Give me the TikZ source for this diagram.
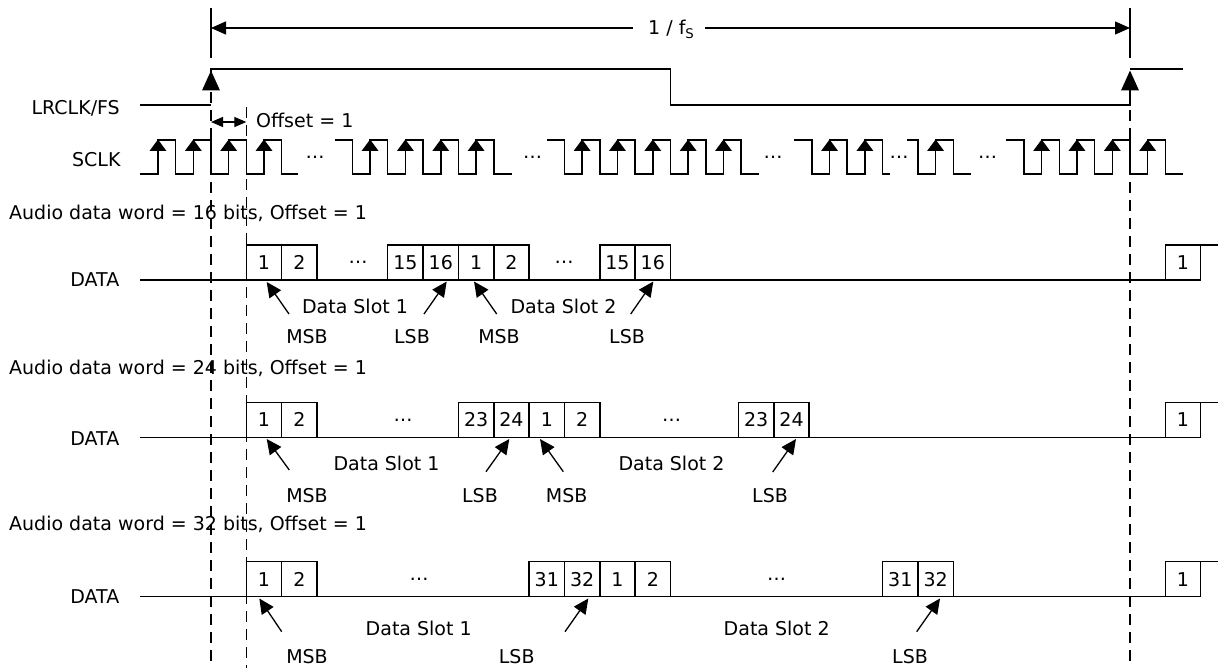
\documentclass[tikz,border=0pt]{standalone}
\usepackage{fontspec}
\setmainfont{DejaVu Sans}
\usetikzlibrary{arrows.meta}
\begin{document}
\begin{tikzpicture}[x=1pt,y=-1pt,
  sig/.style={line width=1.5pt, line join=miter},
  guide/.style={line width=1.3pt, dash pattern=on 11pt off 7pt},
  txt/.style={inner sep=0pt, font=\fontsize{19}{23}\selectfont},
  lbl/.style={txt, anchor=base},
  bitbox/.style={txt, draw, line width=1.5pt, minimum width=35.346pt, minimum height=35pt, outer sep=0pt, anchor=south west},
  ptr/.style={line width=1.3pt, -{Triangle[length=15pt,width=14pt]}},
  dimarr/.style={line width=1.3pt, -{Triangle[length=15pt,width=13pt]}},
  offarr/.style={line width=1.3pt, {Triangle[length=12pt,width=10pt]}-{Triangle[length=12pt,width=10pt]}},
]
\useasboundingbox (0,0) rectangle (1220,668);
\pgfmathsetmacro{\P}{35.346}

% ---------- period dimension ----------
\draw[sig] (211,8) -- (211,58);
\draw[sig] (1130,8) -- (1130,58);
\coordinate (dimL) at (211,28);
\coordinate (dimR) at (1130,28);
\coordinate (gapL) at (633,28);
\coordinate (gapR) at (705,28);
\node[lbl, anchor=base west] (fs) at (648,35) {1 / f\textsubscript{S}};
\draw[dimarr] (gapL) -- (dimL);
\draw[dimarr] (gapR) -- (dimR);

% ---------- LRCLK/FS ----------
\node[lbl, anchor=base east] (lrclk) at (120,115) {LRCLK/FS};
\draw[sig] (140,105) -- (211,105);
\draw[sig] (211,90) -- (211,69) -- (670.5,69) -- (670.5,105) -- (1130,105) -- (1130,90);
\draw[sig] (1130,69) -- (1183,69);
\fill (202,90.5) -- (211,70.5) -- (220,90.5) -- cycle;
\fill (1121,90.5) -- (1130,70.5) -- (1139,90.5) -- cycle;

% ---------- guides ----------
\draw[guide] (211,92) -- (211,668);
\draw[guide] ({211+\P},107) -- ({211+\P},668);
\draw[guide] (1130,92) -- (1130,668);

% ---------- offset ----------
\coordinate (offA) at (211,122);
\coordinate (offB) at ({211+\P},122);
\draw[offarr] (offA) -- (offB);
\node[lbl, anchor=base west] (offset) at (256,128) {Offset = 1};

% ---------- SCLK ----------
\node[lbl, anchor=base east] (sclk) at (120.7,166.7) {SCLK};
\draw[sig] (140,174)
  foreach \k in {-1,0,1,2}{ -- ({211+(\k-0.5)*\P},174) -- ({211+(\k-0.5)*\P},140) -- ({211+\k*\P},140) -- ({211+\k*\P},174) }
  -- (298,174);
\draw[sig] ({211+3.5*\P},140) -- ({211+4*\P},140) -- ({211+4*\P},174)
  foreach \k in {5,6,7,8}{ -- ({211+(\k-0.5)*\P},174) -- ({211+(\k-0.5)*\P},140) -- ({211+\k*\P},140) -- ({211+\k*\P},174) }
  -- (512,174);
\draw[sig] ({211+9.5*\P},140) -- ({211+10*\P},140) -- ({211+10*\P},174)
  foreach \k in {11,12,13,14,15}{ -- ({211+(\k-0.5)*\P},174) -- ({211+(\k-0.5)*\P},140) -- ({211+\k*\P},140) -- ({211+\k*\P},174) }
  -- (758.5,174);
\draw[sig] ({211+16.5*\P},140) -- ({211+17*\P},140) -- ({211+17*\P},174)
  foreach \k in {18,19}{ -- ({211+(\k-0.5)*\P},174) -- ({211+(\k-0.5)*\P},140) -- ({211+\k*\P},140) -- ({211+\k*\P},174) }
  -- (890,174);
\draw[sig] (907,140) -- ({211+20*\P},140) -- ({211+20*\P},174)
  foreach \k in {21}{ -- ({211+(\k-0.5)*\P},174) -- ({211+(\k-0.5)*\P},140) -- ({211+\k*\P},140) -- ({211+\k*\P},174) }
  -- (971,174);
\draw[sig] ({211+22.5*\P},140) -- ({211+23*\P},140) -- ({211+23*\P},174)
  foreach \k in {24,25,26,27}{ -- ({211+(\k-0.5)*\P},174) -- ({211+(\k-0.5)*\P},140) -- ({211+\k*\P},140) -- ({211+\k*\P},174) }
  -- (1183,174);
\foreach \k in {-1,0,1,2,5,6,7,8,11,12,13,14,15,18,19,21,24,25,26,27}
  \fill ({211+(\k-0.5)*\P-8.5},151) -- ({211+(\k-0.5)*\P},139.5) -- ({211+(\k-0.5)*\P+8.5},151) -- cycle;
\node[txt] (cd1) at (315,157) {…};
\node[txt] (cd2) at (532.5,157) {…};
\node[txt] (cd3) at (773,157) {…};
\node[txt] (cd4) at (899,157) {…};
\node[txt] (cd5) at (987.5,157) {…};

% ---------- 16 bits ----------
\node[lbl, anchor=base west] (h1) at (9,220) {Audio data word = 16 bits, Offset = 1};
\node[lbl, anchor=base east] (d1) at (119.5,286.7) {DATA};
\draw[sig] (140,280) -- ({211+27*\P},280);
\node[bitbox] (a1) at ({211+1*\P},280) {1};
\node[bitbox] (a2) at ({211+2*\P},280) {2};
\node[txt] (adots1) at (358,262.5) {…};
\node[bitbox] (a3) at ({211+5*\P},280) {15};
\node[bitbox] (a4) at ({211+6*\P},280) {16};
\node[bitbox] (a5) at ({211+7*\P},280) {1};
\node[bitbox] (a6) at ({211+8*\P},280) {2};
\node[txt] (adots2) at (564,262.5) {…};
\node[bitbox] (a7) at ({211+11*\P},280) {15};
\node[bitbox] (a8) at ({211+12*\P},280) {16};
\node[bitbox] (a9) at ({211+27*\P},280) {1};
\coordinate (aend) at (1218,245);
\draw[sig] (a9.north east) -- (aend);
\node[lbl] (as1) at (355,313) {Data Slot 1};
\node[lbl] (as2) at (563.5,313) {Data Slot 2};
\node[lbl] (am1) at (307,343) {MSB};
\node[lbl] (al1) at (412,343) {LSB};
\node[lbl] (am2) at (499,343) {MSB};
\node[lbl] (al2) at (627,343) {LSB};
\draw[ptr] (289,314) -- (266.7,282);
\draw[ptr] (424,314) -- (446.7,281.5);
\draw[ptr] (496.7,314) -- (474,281.5);
\draw[ptr] (630.7,314) -- (653.3,281.5);

% ---------- 24 bits ----------
\node[lbl, anchor=base west] (h2) at (9,374) {Audio data word = 24 bits, Offset = 1};
\node[lbl, anchor=base east] (d2) at (119.5,445) {DATA};
\draw[sig] (140,437.3) -- ({211+27*\P},437.3);
\node[bitbox] (b1) at ({211+1*\P},437.3) {1};
\node[bitbox] (b2) at ({211+2*\P},437.3) {2};
\node[txt] (bdots1) at (403,420) {…};
\node[bitbox] (b3) at ({211+7*\P},437.3) {23};
\node[bitbox] (b4) at ({211+8*\P},437.3) {24};
\node[bitbox] (b5) at ({211+9*\P},437.3) {1};
\node[bitbox] (b6) at ({211+10*\P},437.3) {2};
\node[txt] (bdots2) at (671.7,420) {…};
\node[bitbox] (b7) at (738.5,437.3) {23};
\node[bitbox] (b8) at ({738.5+\P},437.3) {24};
\node[bitbox] (b9) at ({211+27*\P},437.3) {1};
\coordinate (bend) at (1218,402.3);
\draw[sig] (b9.north east) -- (bend);
\node[lbl] (bs1) at (386.5,470) {Data Slot 1};
\node[lbl] (bs2) at (671.5,470) {Data Slot 2};
\node[lbl] (bm1) at (307,502.5) {MSB};
\node[lbl] (bl1) at (480,502.5) {LSB};
\node[lbl] (bm2) at (566.7,502.5) {MSB};
\node[lbl] (bl2) at (770,502.5) {LSB};
\draw[ptr] (289.3,470) -- (266.7,439);
\draw[ptr] (486,471.7) -- (509.3,439);
\draw[ptr] (563.3,471.7) -- (540,439);
\draw[ptr] (772.7,472) -- (796,439);

% ---------- 32 bits ----------
\node[lbl, anchor=base west] (h3) at (9,530) {Audio data word = 32 bits, Offset = 1};
\node[lbl, anchor=base east] (d3) at (119.5,603.3) {DATA};
\draw[sig] (140,596.7) -- ({211+27*\P},596.7);
\node[bitbox] (c1) at ({211+1*\P},596.7) {1};
\node[bitbox] (c2) at ({211+2*\P},596.7) {2};
\node[txt] (cdots1) at (419,579) {…};
\node[bitbox] (c3) at ({211+9*\P},596.7) {31};
\node[bitbox] (c4) at ({211+10*\P},596.7) {32};
\node[bitbox] (c5) at ({211+11*\P},596.7) {1};
\node[bitbox] (c6) at ({211+12*\P},596.7) {2};
\node[txt] (cdots2) at (776.7,579) {…};
\node[bitbox] (c7) at ({211+19*\P},596.7) {31};
\node[bitbox] (c8) at ({211+20*\P},596.7) {32};
\node[bitbox] (c9) at ({211+27*\P},596.7) {1};
\coordinate (cend) at (1218,561.7);
\draw[sig] (c9.north east) -- (cend);
\node[lbl] (cs1) at (418.7,635) {Data Slot 1};
\node[lbl] (cs2) at (776.7,635) {Data Slot 2};
\node[lbl] (cm1) at (307,663) {MSB};
\node[lbl] (cl1) at (516.7,663) {LSB};
\node[lbl] (cl2) at (910,663) {LSB};
\draw[ptr] (281.7,631.7) -- (259.3,598.5);
\draw[ptr] (565,631.7) -- (588.3,598.5);
\draw[ptr] (916.7,631.7) -- (940,598.5);
\end{tikzpicture}
\end{document}
